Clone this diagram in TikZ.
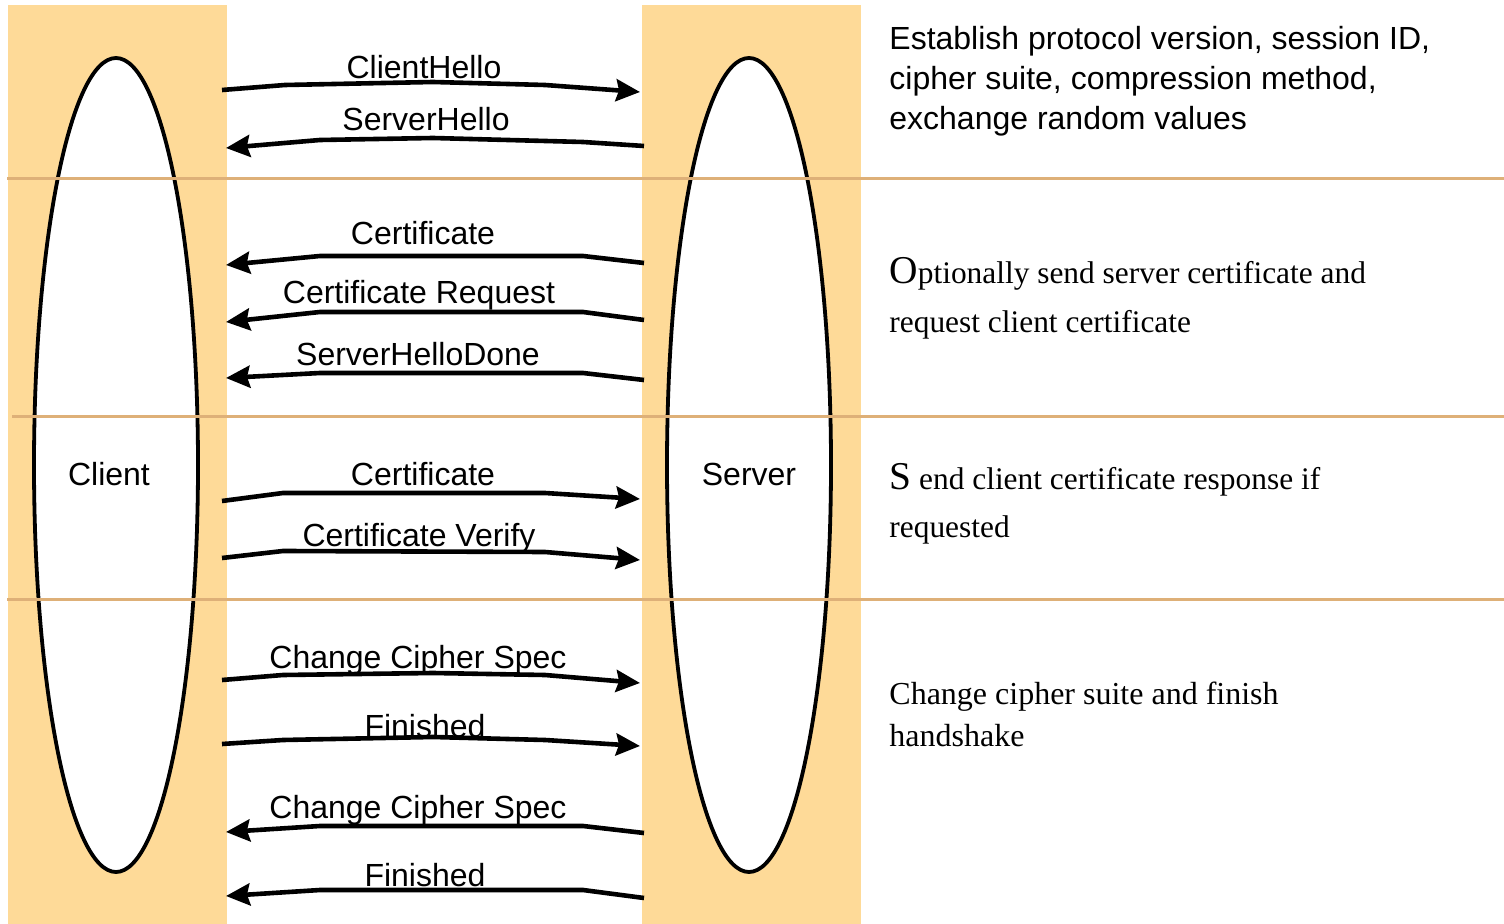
\documentclass[tikz,border=0pt]{standalone}
\usepackage{fontspec}
\setmainfont{Liberation Sans}
\newfontfamily\serifnote{Liberation Serif}
\usetikzlibrary{shapes.geometric,arrows.meta}
\definecolor{band}{RGB}{254,218,152}
\definecolor{sep}{RGB}{222,176,120}
\begin{document}
\begin{tikzpicture}[x=0.5pt,y=-0.5pt,
  party/.style={ellipse,draw,line width=1.9pt,fill=white,minimum width=82pt,minimum height=407pt,inner sep=0pt},
  msg/.style={line width=2.3pt,line join=round,-{Stealth[length=12pt,width=11pt,inset=1.5pt]}},
  lbl/.style={anchor=base,font=\fontsize{16}{19}\selectfont,inner sep=0pt},
  sepline/.style={draw=sep,line width=1.5pt},
  note/.style={anchor=base west,inner sep=0pt,align=left}
]
\useasboundingbox (0,0) rectangle (1504,924);
% bands
\fill[band] (8,5) rectangle (227,924);
\fill[band] (642,5) rectangle (861,924);
% parties
\node[party] (client) at (116,465) {};
\node[party] (server) at (749,465) {};
\node[lbl] (clientlbl) at (109,486) {Client};
\node[lbl] (serverlbl) at (749,486) {Server};
% separators
\draw[sepline] (7,179) -- (1504,179);
\draw[sepline] (12,417) -- (1504,417);
\draw[sepline] (7,599) -- (1504,599);
% endpoints
\coordinate (c1) at (222,90);  \coordinate (s1) at (640,92);
\coordinate (s2) at (644,146); \coordinate (c2) at (226,148);
\coordinate (s3) at (644,263); \coordinate (c3) at (226,265);
\coordinate (s4) at (644,320); \coordinate (c4) at (226,322);
\coordinate (s5) at (644,380); \coordinate (c5) at (226,378);
\coordinate (c6) at (222,501); \coordinate (s6) at (640,499);
\coordinate (c7) at (222,558); \coordinate (s7) at (640,560);
\coordinate (c8) at (222,680); \coordinate (s8) at (640,683);
\coordinate (c9) at (222,744); \coordinate (s9) at (640,746);
\coordinate (s10) at (644,833); \coordinate (c10) at (226,832);
\coordinate (s11) at (644,898); \coordinate (c11) at (226,896);
% messages
\draw[msg] (c1) -- (285,85) -- (433,82) -- (545,85) -- (s1);
\node[lbl] (m1) at (424,79) {ClientHello};
\draw[msg] (s2) -- (583,142) -- (433,138) -- (320,140) -- (c2);
\node[lbl] (m2) at (426,131) {ServerHello};
\draw[msg] (s3) -- (583,256) -- (320,256) -- (c3);
\node[lbl] (m3) at (423,245) {Certificate};
\draw[msg] (s4) -- (583,312) -- (320,312) -- (c4);
\node[lbl] (m4) at (419,304) {Certificate Request};
\draw[msg] (s5) -- (583,373) -- (320,373) -- (c5);
\node[lbl] (m5) at (418,366) {ServerHelloDone};
\draw[msg] (c6) -- (283,493) -- (545,493) -- (s6);
\node[lbl] (m6) at (423,486) {Certificate};
\draw[msg] (c7) -- (283,551) -- (545,552) -- (s7);
\node[lbl] (m7) at (419,547) {Certificate Verify};
\draw[msg] (c8) -- (283,675) -- (433,673) -- (545,675) -- (s8);
\node[lbl] (m8) at (418,668) {Change Cipher Spec};
\draw[msg] (c9) -- (283,740) -- (433,737) -- (545,740) -- (s9);
\node[lbl] (m9) at (425,737) {Finished};
\draw[msg] (s10) -- (583,826) -- (320,826) -- (c10);
\node[lbl] (m10) at (418,818) {Change Cipher Spec};
\draw[msg] (s11) -- (583,890) -- (320,890) -- (c11);
\node[lbl] (m11) at (425,886) {Finished};
% notes (anchored at the baseline of their last line)
\node[note,font=\fontsize{16}{20}\selectfont] (n1) at (889,130)
  {Establish protocol version, session ID,\\cipher suite, compression method,\\exchange random values};
\node[note,font=\serifnote\fontsize{15.7}{24.5}\selectfont] (n2) at (889,333)
  {{\fontsize{19.7}{24.5}\selectfont O}ptionally send server certificate and\\request client certificate};
\node[note,font=\serifnote\fontsize{15.7}{24}\selectfont] (n3) at (889,538)
  {{\fontsize{19.7}{24}\selectfont S} end client certificate response if\\requested};
\node[note,font=\serifnote\fontsize{16}{21}\selectfont] (n4) at (889,746)
  {Change cipher suite and finish\\handshake};
\end{tikzpicture}
\end{document}
